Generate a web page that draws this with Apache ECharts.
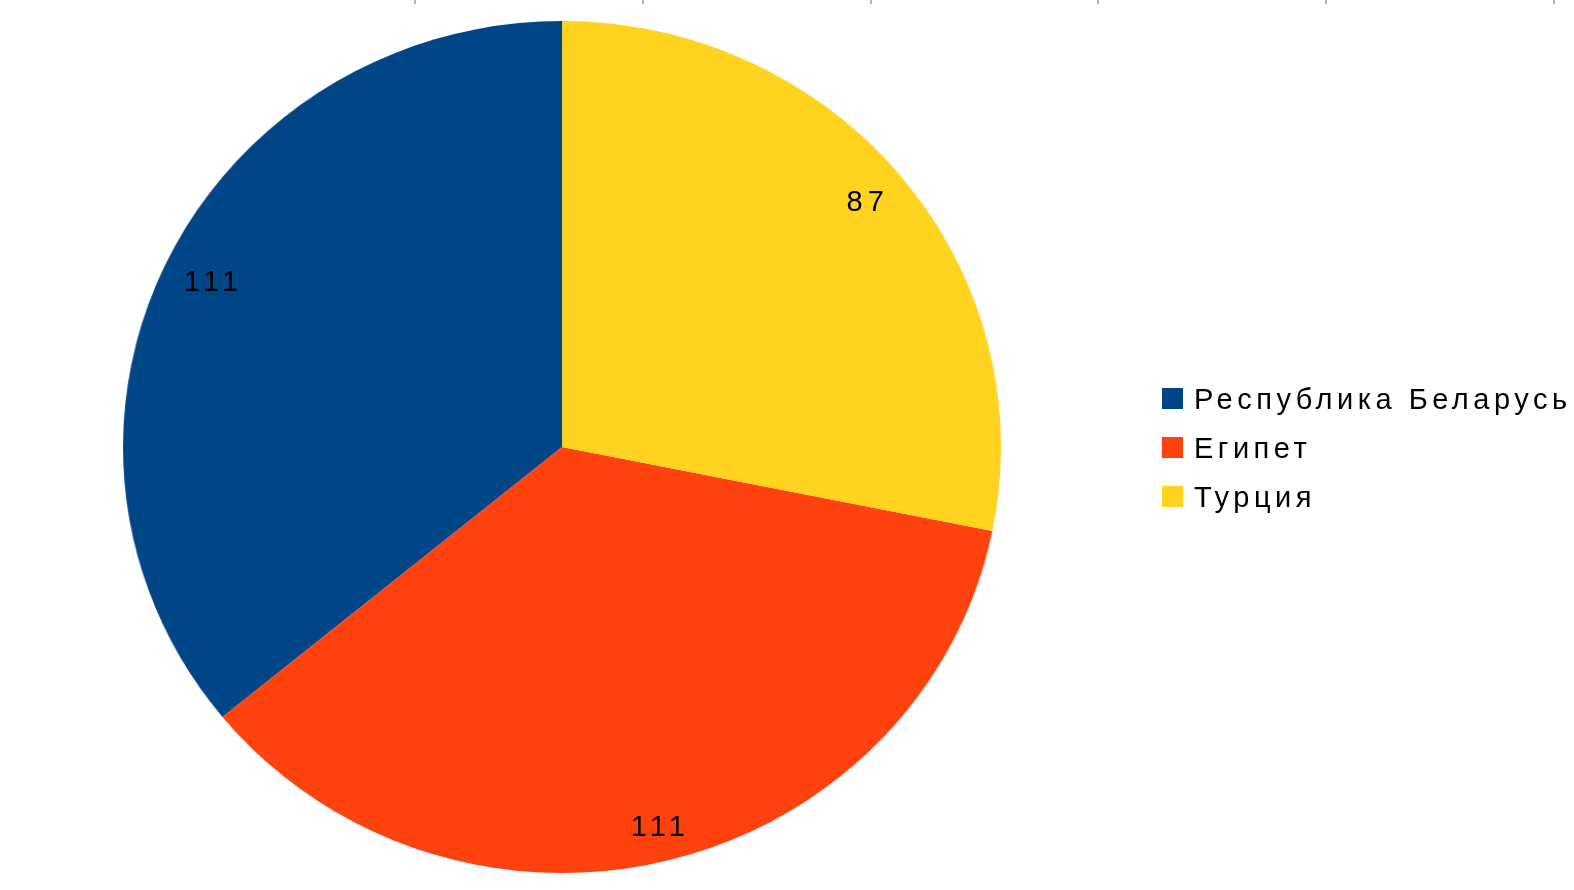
<!DOCTYPE html>
<html>
<head>
<meta charset="utf-8">
<script src="https://cdn.jsdelivr.net/npm/echarts@6/dist/echarts.min.js"></script>
<style>
html,body{margin:0;padding:0;background:#fff;}
#wrap{position:relative;width:1574px;height:890px;overflow:hidden;background:#fff;}
#pie{position:absolute;left:0;top:0;width:1574px;height:890px;transform-origin:562px 447px;transform:scaleX(1.0305);}
#overlay{position:absolute;left:0;top:0;width:1574px;height:890px;}
#overlay text{letter-spacing:5px;}
#overlay .lg text{letter-spacing:4.5px;}
</style>
</head>
<body>
<div id="wrap">
  <div id="pie"></div>
  <div id="overlay"></div>
</div>
<script>
const categories = ['Республика Беларусь', 'Египет', 'Турция'];
const values = [111, 111, 87];
const colors = ['#004586', '#ff420e', '#ffd320'];
const topTicks = [0, 1, 2, 3, 4, 5];

const pieData = categories.map((name, i) => ({ name, value: values[i], itemStyle: { color: colors[i] } }));
const labelData = categories.map((name, i) => ({ name, value: values[i], itemStyle: { color: 'rgba(0,0,0,0)' } }));

const pieChart = echarts.init(document.getElementById('pie'));
pieChart.setOption({
  animation: false,
  series: [{
    type: 'pie', center: [562, 447], radius: [0, 426], startAngle: 90, clockwise: false,
    data: pieData, label: { show: false }, labelLine: { show: false }, silent: true
  }]
});

const overlay = echarts.init(document.getElementById('overlay'), null, { renderer: 'svg' });
overlay.setOption({
  animation: false,
  grid: { left: 414.6, right: 20, top: 0, height: 10, containLabel: false },
  xAxis: {
    type: 'value', position: 'top', min: topTicks[0], max: topTicks[topTicks.length - 1], interval: 1,
    axisLine: { show: false, onZero: false },
    axisTick: { show: true, inside: true, length: 4, lineStyle: { color: '#b3b3b3', width: 2 } },
    axisLabel: { show: false }, splitLine: { show: false }
  },
  yAxis: { type: 'value', show: false, splitLine: { show: false } },
  legend: {
    orient: 'vertical', left: 1157, top: 379, icon: 'rect',
    itemWidth: 21, itemHeight: 21, itemGap: 20,
    data: categories.map((name, i) => ({ name, itemStyle: { color: colors[i] } })),
    textStyle: { fontFamily: 'Liberation Sans', fontSize: 29, color: '#000', padding: [0, 0, 0, 6] }
  },
  series: [{
    type: 'pie', center: [566, 448], radius: [346, 428], startAngle: 90, clockwise: false,
    data: labelData, silent: true,
    label: { show: true, position: 'inside', formatter: '{c}', fontFamily: 'Liberation Sans', fontSize: 29, color: '#000' },
    labelLine: { show: false }
  }]
});
// legend texts get a slightly smaller letter spacing than the value labels
document.querySelectorAll('#overlay text').forEach(t => {
  if (categories.includes(t.textContent)) t.style.letterSpacing = '4.5px';
});
</script>
</body>
</html>
